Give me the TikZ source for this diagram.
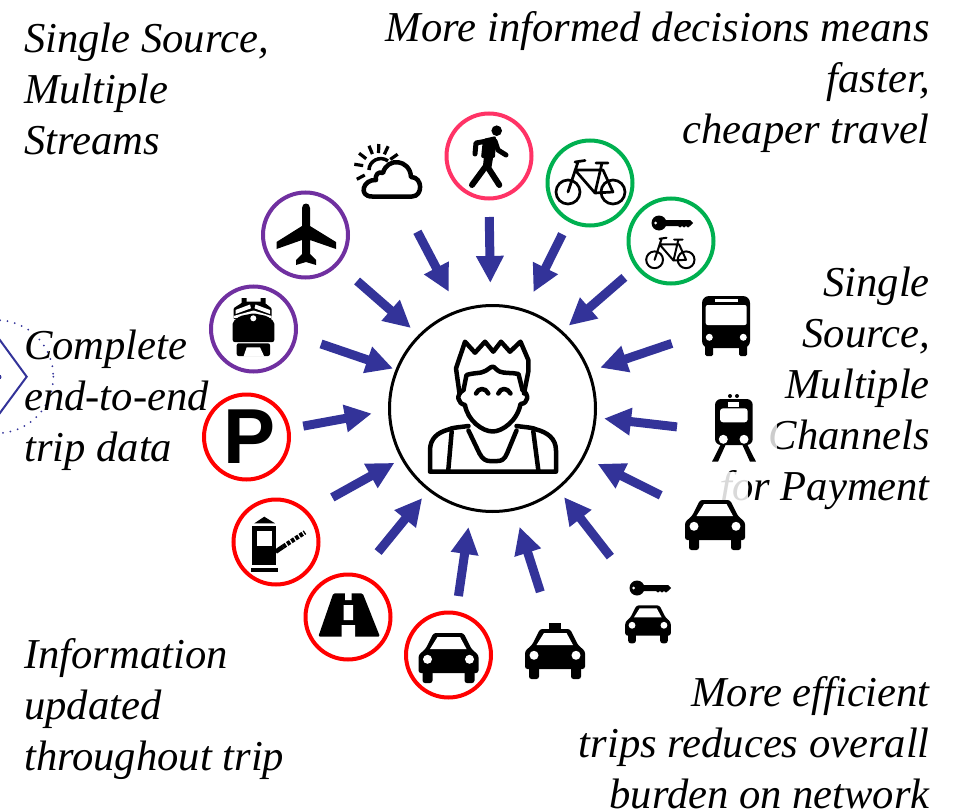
\documentclass[tikz,border=0pt]{standalone}
\usepackage{fontspec}
\setmainfont{Liberation Serif}
\newfontfamily\signfont{Liberation Sans}
\usetikzlibrary{arrows.meta}
\definecolor{flowblue}{HTML}{333399}
\definecolor{walkpink}{HTML}{FF3366}
\definecolor{bikegreen}{HTML}{00B050}
\definecolor{airpurple}{HTML}{7030A0}
\tikzset{
pics/bikeicon/.style={code={
	\draw[line width=#1] (-22,9) circle (12) (23,9) circle (12);
	\draw[line width=#1,line cap=round,line join=round] (-22,9) -- (-12,-21) (-15,-21) -- (-5,-22.5) (-15,-13) -- (13,-13) -- (23,9) -- (5,10) -- (-15,-13) (5,10) -- (12,-20) (6,-20) -- (18,-20);
}},
pics/keyicon/.style={code={
	\fill (-16,0) circle (7.5);
	\fill (-11,-3) -- (15,-3) -- (18,0) -- (15,3) -- (13,4.5) -- (11,3) -- (9,4.5) -- (7,3) -- (5,4.5) -- (3,3) -- (-11,3) -- cycle;
	\fill[white] (-19.5,0) circle (1.5);
}},
pics/caricon/.style={code={
	\fill[rounded corners=2.5] (-15,-22) -- (15,-22) -- (23,-6) -- (30,0) -- (30,18) -- (-30,18) -- (-30,0) -- (-23,-6) -- cycle;
	\fill[rounded corners=2.5] (-26,14) rectangle (-16,28) (16,14) rectangle (26,28);
	\fill[white] (-11,-18) -- (11.5,-18) -- (18,-6) -- (-18.5,-6) -- cycle;
	\fill[white] (-21,4.3) circle (4.5) (21,4.3) circle (4.5);
}}
}
\begin{document}
\begin{tikzpicture}[x=1pt,y=-1pt,
ring/.style={circle,draw=#1,line width=4pt,minimum size=85pt,inner sep=0pt,outer sep=2.5pt},
sign/.style={circle,minimum size=60pt,inner sep=0pt,outer sep=0pt},
say/.style={inner sep=0pt,font=\fontsize{42.6}{51}\selectfont\itshape},
flow/.style={draw=flowblue,fill=flowblue,line width=9pt,-{Triangle[length=27pt,width=26pt]}}]
\clip (0,0) rectangle (954,811);
\draw[flowblue,line width=2pt,line cap=round,dash pattern=on 0pt off 7.5pt] (-3.3,376.7) circle (56.6);
\draw[flowblue,line width=2pt] (-6,332) -- (26.7,376.7) -- (-6,421);
\fill[flowblue] (-1,377) circle (2.5);
\node[say,anchor=north west,align=left] (streams) at (24,23) {Single Source,\\Multiple\\Streams};
\node[say,anchor=north east,align=right] (decisions) at (930,11) {More informed decisions means\\faster,\\cheaper travel};
\node[say,anchor=north east,align=right] (channels) at (930,267) {Single\\Source,\\Multiple\\Channels\\for Payment};
\node[say,anchor=north east,align=right] (burden) at (930,676) {More efficient\\trips reduces overall\\burden on network};
\node[say,anchor=north west,align=left] (updated) at (24,638) {Information\\updated\\throughout trip};
\node[say,anchor=north west,align=left] (tripdata) at (24,330) {Complete\\end-to-end\\trip data};
\fill[white,opacity=.8] (768,415) rectangle (777,460);
\fill[white,opacity=.85] (722,472) rectangle (748,503);
\node[ring=walkpink] (walk) at (489,156) {};
\node[ring=bikegreen] (bike) at (590,183) {};
\node[ring=bikegreen] (bikekey) at (671,241) {};
\node[ring=airpurple] (plane) at (305.5,235) {};
\node[ring=airpurple] (train) at (253.5,329) {};
\node[ring=red] (parking) at (246.5,437) {\signfont\fontsize{78}{78}\selectfont\bfseries\hspace{6pt}P};
\node[ring=red] (toll) at (276,542) {};
\node[ring=red] (road) at (348,617) {};
\node[ring=red] (car) at (448.5,655) {};
\node[sign] (weather) at (390,172) {};
\node[sign] (bus) at (726,326) {};
\node[sign] (metro) at (734,430) {};
\node[sign] (sedan) at (715,522) {};
\node[sign] (carkey) at (648,610) {};
\node[sign] (taxi) at (555,651) {};
\node[circle,draw,line width=3pt,minimum size=206pt,inner sep=0pt,outer sep=0pt] (hub) at (492.5,408.5) {};
\foreach \icon/\from/\gapa/\to/\gapb in {weather/-69.5/35.9/109.6/21.8,walk/-90/16/91.9/22.6,plane/-42.2/24.1/135/11.6,train/-9/24.4/158.2/4.1,bike/-119.4/13.2/72.3/20.5,bikekey/-143.5/14.2/48.6/9.7,bus/-163.4/26.9/21.4/12.2,metro/180/27.2/-5.3/9,sedan/154/30.5/-28.8/15.8,carkey/122.1/35.4/-51.8/10.9,taxi/100/31.1/-78.4/18.5,car/80.5/14.8/-102.3/18,road/74.1/28/-128.1/10.9,toll/44.5/27.4/-151.6/9.1,parking/11.9/12.8/181.3/18}
	\draw[flow,shorten <=\gapa pt,shorten >=\gapb pt] (\icon.\from) -- (hub.\to);
\begin{scope}[shift={(hub)},line width=4.5pt,line join=round,line cap=round]
	\draw (-33,-15) -- (-36.5,-40) -- (-27.5,-66.8) -- (-17.5,-55.8) -- (-7.5,-66.8) -- (0.8,-56.8) -- (8.5,-66.8) -- (17.5,-56.8) -- (28,-66.8) -- (35.8,-48.5) -- (35.8,-36.8) -- (31.5,-15);
	\draw (-29,-18.5) -- (-26,-33.5) .. controls (-18,-36) and (-12,-35) .. (-9,-36.8) .. controls (-5,-38) and (-2,-42) .. (0.2,-41.8) .. controls (2,-42) and (4,-38) .. (7.5,-36.8) .. controls (12,-35) and (20,-36) .. (26,-34.5) -- (30,-18.5);
	\draw (-29,-18.5) .. controls (-37,-14) and (-35,-5) .. (-27.5,-3.5) .. controls (-25,12) and (-10,23) .. (0.2,23) .. controls (10,23) and (25,12) .. (28,-4.5) .. controls (36,-5) and (37,-14) .. (30,-18.5);
	\draw (-16.5,-15) .. controls (-14,-21) and (-7,-21) .. (-4.2,-15) (5.8,-15) .. controls (8,-21) and (15,-21) .. (18,-15);
	\draw (-24,17.5) .. controls (-35,19) and (-40,19) .. (-44,21) .. controls (-55,24) and (-62.5,30) .. (-62.5,42) -- (-62.5,63.2) -- (63.5,63.2) -- (63.5,42) .. controls (63.5,30) and (55,24) .. (44,21) .. controls (40,19) and (35,19) .. (24,17.5);
	\draw (-40.8,23) -- (-44.2,61.5) (40.8,23) -- (45.8,61.5);
	\draw (-24,22) -- (-13,45) .. controls (-10,51) and (-6,52.5) .. (-3,52.5) -- (5,52.5) .. controls (9,52.5) and (12,51) .. (14.5,45) -- (24,22);
\end{scope}
\begin{scope}[shift={(walk)}]
	\fill (7.7,-25.3) circle (5.3);
	\fill[rounded corners=2] (-6,-17) -- (7,-20) -- (6,2) -- (-8,2) -- cycle;
	\draw[line width=5pt,line cap=round,line join=round] (-2,-15) -- (-13,-13) -- (-14,-2) (6,-15) -- (9,-6) -- (17,-1);
	\draw[line width=6pt,line cap=round,line join=round] (-2,0) -- (-3,10) -- (-17,29) (1,2) -- (-0.7,12) -- (10.3,29);
\end{scope}
\pic at (bike) {bikeicon=2.7pt};
\pic[shift={(-1,12.5)},scale=.7] at (bikekey) {bikeicon=2pt};
\pic[shift={(4,-18)}] at (bikekey) {keyicon};
\begin{scope}[shift={(weather)}]
	\draw[line width=4.5pt,line join=round] (-18,24.5) -- (22,24.5) .. controls (33,24.5) and (33,5) .. (21,5) .. controls (20,-13) and (-3,-15) .. (-7,1) .. controls (-12,-1) and (-15,3) .. (-14,8) .. controls (-27,7) and (-32,24.5) .. (-18,24.5) -- cycle;
	\draw[line width=3.5pt] (-21,-2) .. controls (-21,-11) and (-10,-17) .. (-2,-11);
	\foreach \ray in {152,189,218,248,272,295,325}
		\draw[line width=3.2pt] (-12,-4) ++(\ray:15) -- ++(\ray:9);
\end{scope}
\begin{scope}[shift={(plane)}]
	\fill (-3.5,-27) .. controls (-3.5,-33) and (4.5,-33) .. (4.5,-27) -- (4.5,-9) -- (30.5,7) -- (30.5,14) -- (4.5,5) -- (4.5,19) -- (10.5,25) -- (10.5,30) -- (.5,27) -- (-9.5,30) -- (-9.5,25) -- (-3.5,19) -- (-3.5,5) -- (-29,14) -- (-29,7) -- (-3.5,-9) -- cycle;
\end{scope}
\begin{scope}[shift={(train)}]
	\fill (-12,-31) rectangle (-7,-26) (7,-31) rectangle (12,-26);
	\fill[rounded corners=1] (-20,-20.7) -- (-10,-27.3) -- (9.8,-27.3) -- (18.2,-20.7) -- (18.2,-10) -- (-20,-10) -- cycle;
	\fill[white] (-18,-19) -- (-3.5,-24.5) -- (-2.5,-20.7) -- (-18,-15) -- cycle (16.5,-19) -- (2,-24.5) -- (1,-20.7) -- (16.5,-15) -- cycle;
	\fill[white] (-20,-13) -- (0,-18.5) -- (18.2,-13) -- (18.2,-11) -- (-20,-11) -- cycle;
	\fill[rounded corners=2] (-20.8,13) -- (-20.8,-7.3) -- (-13.5,-13) -- (0,-15.7) -- (13.5,-13) -- (20.8,-7.3) -- (20.8,13) -- cycle;
	\fill[white] (-0.2,-10.7) circle (3);
	\fill[rounded corners=2] (-16.8,14.3) -- (16.5,14.3) -- (16.5,27) -- (-16.8,27) -- cycle;
	\fill[white] (-10,27.5) -- (-6.8,18.3) -- (6.5,18.3) -- (10.8,27.5) -- cycle;
\end{scope}
\begin{scope}[shift={(toll)}]
	\fill (-21.7,-18.7) -- (-11.7,-25.3) -- (-1,-18.7) -- cycle;
	\fill (-23.7,-16) rectangle (-0.3,23);
	\fill[white] (-19.3,-11.3) rectangle (-4.3,4);
	\fill (-25,26.3) rectangle (1.7,30.3);
	\draw[line width=4.5pt] (-0.3,9.7) -- (7,4.7);
	\draw[line width=4.5pt,dash pattern=on 3.5pt off 1.5pt] (7,4.7) -- (29,-9.7);
\end{scope}
\begin{scope}[shift={(road)}]
	\fill[rounded corners=1.5] (-14.7,-23.7) -- (14.7,-23.7) -- (32,19.7) -- (-29.7,19.7) -- cycle;
	\fill[white] (-3,-24) rectangle (3.5,-17) (-4.5,-12) rectangle (5,3) (-6.5,8) rectangle (7,20);
\end{scope}
\pic at (car) {caricon};
\pic at (sedan) {caricon};
\pic at (taxi) {caricon};
\fill[shift={(taxi)}] (-6,-28) rectangle (6,-21);
\pic[shift={(0,12)},scale=.76] at (carkey) {caricon};
\pic[shift={(5,-22)}] at (carkey) {keyicon};
\begin{scope}[shift={(bus)}]
	\fill[rounded corners=7] (-24,-30) rectangle (24,22);
	\fill[rounded corners=1.5] (-21,18) rectangle (-13,30) (13,18) rectangle (21,30);
	\fill[white,rounded corners=2] (-20.3,-21) rectangle (20.7,-1);
	\fill (-24,-24) rectangle (24,-21);
	\fill[white] (-11,-27) rectangle (12,-24);
	\fill[white] (-16.7,11.3) circle (3.5) (17.3,11.3) circle (3.5);
\end{scope}
\begin{scope}[shift={(metro)}]
	\fill (-4,-34) circle (2) (3,-34) circle (2);
	\fill[rounded corners=6] (-19,-31) rectangle (18.7,15);
	\fill[white,rounded corners=3] (-14,-21.7) rectangle (13.7,-7.7);
	\fill[white] (-5.7,-28.3) rectangle (5.3,-23.3);
	\fill[white] (-10.7,9.3) circle (4.5) (10,9.3) circle (4.5);
	\fill (-13,14) -- (-8,14) -- (-16,31.7) -- (-22,31.7) -- cycle (8,14) -- (13,14) -- (22,31.7) -- (16,31.7) -- cycle;
\end{scope}
\end{tikzpicture}
\end{document}
